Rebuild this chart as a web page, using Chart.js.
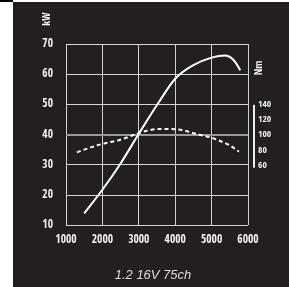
<!DOCTYPE html>
<html><head><meta charset="utf-8">
<script src="https://cdn.jsdelivr.net/npm/chart.js@4/dist/chart.umd.min.js"></script>
<style>
html,body{margin:0;padding:0;background:#fff;width:289px;height:287px;overflow:hidden;}
#corner{position:absolute;left:0;top:0;width:13px;height:2px;background:#000;}
#wrap{position:absolute;left:13px;top:2px;width:276px;height:285px;background:#231f20;}
canvas{display:block;}
</style></head>
<body>
<div id="corner"></div>
<div id="wrap"><canvas id="c" width="276" height="285"></canvas></div>
<script>
const rpmPower = [1500, 2000, 2500, 3000, 3500, 4000, 4500, 5000, 5375, 5520, 5650, 5790];
const powerKW  = [14, 21.8, 30.5, 40.3, 49.8, 58.5, 63, 65.5, 66.2, 65.6, 64.0, 61.3];
const rpmTorque = [1300, 1500, 2000, 2500, 3000, 3300, 3600, 4000, 4250, 4500, 4750, 5000, 5250, 5500, 5750];
const torqueNm  = [77, 80.5, 88, 93.5, 102, 106, 107.5, 107, 105.5, 102, 99, 96, 91.5, 86, 78];
const rpmTicks = [1000, 2000, 3000, 4000, 5000, 6000];
const kwTicks = [10, 20, 30, 40, 50, 60, 70];
const nmTicks = [60, 80, 100, 120, 140];
const powerUnit = 'kW';
const torqueUnit = 'Nm';
const titleText = '1.2 16V 75ch';

const FONT = "'Open Sans Condensed', 'Roboto Condensed', 'Liberation Sans', Arial, sans-serif";
const TXT = '#f2f2f2';

const unitsPlugin = {
  id: 'units',
  afterDraw(chart) {
    const ctx = chart.ctx, a = chart.chartArea, yT = chart.scales.yT;
    ctx.save();
    ctx.setLineDash([]);
    ctx.fillStyle = TXT;
    ctx.font = "bold 10.5px " + FONT;
    ctx.textAlign = 'center';
    ctx.textBaseline = 'middle';
    ctx.save();
    ctx.translate(a.left - 19, a.top - 25);
    ctx.rotate(-Math.PI / 2);
    ctx.fillText(powerUnit, 0, 0);
    ctx.restore();
    ctx.save();
    ctx.translate(a.right + 11, a.top + 24);
    ctx.rotate(-Math.PI / 2);
    ctx.fillText(torqueUnit, 0, 0);
    ctx.restore();
    const y1 = yT.getPixelForValue(139), y2 = yT.getPixelForValue(57);
    ctx.fillStyle = '#ececec';
    ctx.fillRect(a.right + 5, y1, 2, y2 - y1);
    ctx.restore();
  }
};

new Chart(document.getElementById('c'), {
  type: 'line',
  data: {
    datasets: [
      {
        data: rpmPower.map((x, i) => ({x, y: powerKW[i]})),
        yAxisID: 'y', borderColor: '#ffffff', borderWidth: 2,
        pointRadius: 0, cubicInterpolationMode: 'monotone', fill: false
      },
      {
        data: rpmTorque.map((x, i) => ({x, y: torqueNm[i]})),
        yAxisID: 'yT', borderColor: '#ffffff', borderWidth: 2, borderDash: [4, 3],
        pointRadius: 0, cubicInterpolationMode: 'monotone', fill: false
      }
    ]
  },
  options: {
    responsive: false, animation: false, devicePixelRatio: 1,
    layout: { padding: { top: 42, left: 4, right: 0, bottom: 0 } },
    plugins: {
      legend: { display: false }, tooltip: { enabled: false },
      title: {
        display: true, text: titleText, position: 'bottom', color: '#dcdcdc',
        font: { family: "'Liberation Sans', Arial, sans-serif", size: 13, style: 'italic', weight: 'normal' },
        padding: { top: 0, bottom: 4 }
      }
    },
    scales: {
      x: {
        type: 'linear', min: 1000, max: 6000,
        afterBuildTicks: s => { s.ticks = rpmTicks.map(v => ({value: v})); },
        afterFit: s => { s.height = 42; },
        grid: { color: '#d0d0d0', lineWidth: 1, drawTicks: false },
        border: { display: false },
        ticks: { color: TXT, padding: 8, font: { family: FONT, size: 11.5, weight: 'bold' }, callback: v => String(v) }
      },
      y: {
        position: 'left', min: 10, max: 70,
        afterBuildTicks: s => { s.ticks = kwTicks.map(v => ({value: v})); },
        afterFit: s => { s.width = 49; },
        grid: { color: c => c.tick && c.tick.value === 40 ? '#9a9a9a' : '#d4d4d4',
                lineWidth: c => c.tick && c.tick.value === 40 ? 2 : 1, drawTicks: false },
        border: { display: false },
        ticks: { color: TXT, padding: 13, font: { family: FONT, size: 11.5, weight: 'bold' }, callback: v => String(v) }
      },
      yT: {
        position: 'right', min: -18.3, max: 218.3,
        afterBuildTicks: s => { s.ticks = nmTicks.map(v => ({value: v})); },
        afterFit: s => { s.width = 41; },
        grid: { drawOnChartArea: false, drawTicks: false },
        border: { display: false },
        ticks: { color: TXT, padding: 10, font: { family: FONT, size: 9.5, weight: 'bold' }, callback: v => String(v) }
      }
    }
  },
  plugins: [unitsPlugin]
});
</script>
</body></html>
